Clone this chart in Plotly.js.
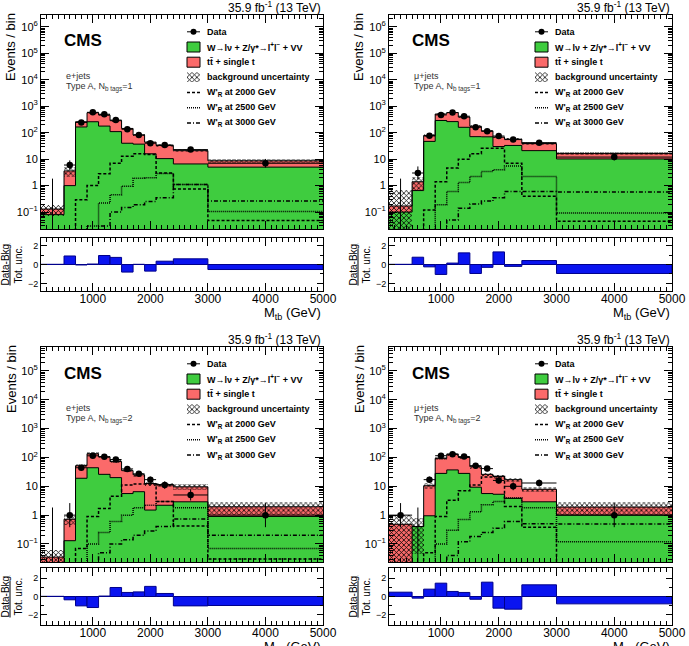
<!DOCTYPE html>
<html>
<head>
<meta charset="utf-8">
<script src="https://cdn.plot.ly/plotly-3.0.1.min.js"></script>
<style>
  html, body { margin: 0; padding: 0; background: #fff; }
  #chart { width: 689px; height: 646px; }
</style>
</head>
<body>
<div id="chart"></div>
<script>
// M_tb binning (GeV)
const binEdges = [100, 500, 700, 900, 1100, 1300, 1500, 1700, 1900, 2100, 2400, 3000, 5000];

// ---- e+jets, Type A, N_b tags = 1 ----
const ewk_e1  = [0.08, 1.0, 165, 260, 178, 110, 40, 37, 16, 10.5, 6.6, 5.0];
const top_e1  = [0.05, 2.6, 95, 310, 287, 175, 105, 45, 28, 22.5, 14.4, 3.7];
const unc_e1  = [0.06, 1.4, 20, 40, 35, 22, 12, 7, 4, 3, 2.5, 1.6];
const data_e1 = [0, 6, 245, 590, 500, 300, 135, 82, 40, 34, 23, 7];
const w2000_e1 = [0.005, 0.01, 0.29, 1.0, 2.8, 7.0, 13, 16, 15, 3.0, 0.74, 0.048];
const w2500_e1 = [0.002, 0.004, 0.01, 0.03, 0.22, 0.45, 0.95, 1.9, 2.0, 2.9, 1.1, 0.105];
const w3000_e1 = [0.001, 0.002, 0.005, 0.01, 0.03, 0.1, 0.15, 0.19, 0.25, 0.35, 1.1, 0.26];
const pull_e1 = [0.02, 0.9, -0.05, 0.05, 0.95, 0.75, -0.8, 0.02, -0.7, 0.35, 0.6, -0.53];

// ---- mu+jets, Type A, N_b tags = 1 ----
const ewk_m1  = [0.1, 0.65, 47, 290, 263, 160, 71, 70, 30, 33, 21, 10.2];
const top_m1  = [0.07, 0.75, 31, 220, 312, 230, 104, 48, 38, 24, 18, 6.3];
const unc_m1  = [0.5, 0.8, 8, 35, 40, 28, 14, 10, 6, 6, 4, 2.5];
const data_m1 = [0, 3, 76, 470, 580, 420, 160, 113, 75, 55, 42, 12];
const w2000_m1 = [0.005, 0.01, 0.12, 1.4, 4.6, 10, 16, 26, 26, 7, 0.4, 0.045];
const w2500_m1 = [0.002, 0.004, 0.01, 0.19, 0.6, 1.3, 2.2, 3.4, 4.0, 5.5, 2.2, 0.093];
const w3000_m1 = [0.001, 0.002, 0.005, 0.01, 0.05, 0.14, 0.2, 0.26, 0.35, 0.6, 0.6, 0.57];
const pull_m1 = [0.02, 0.77, -0.25, -1.05, 0.15, 1.23, -0.95, -0.3, 1.33, -0.2, 0.42, -0.95];

// ---- e+jets, Type A, N_b tags = 2 ----
const ewk_e2  = [0.003, 0.13, 19, 44, 26, 20, 5.6, 6.5, 1.5, 2.2, 2.9, 0.9];
const top_e2  = [0.032, 0.59, 33, 91, 79, 52, 29.4, 18.5, 11, 9.3, 6.7, 1.05];
const unc_e2  = [0.025, 0.25, 6, 14, 11, 8, 4.5, 3.5, 2, 2, 2, 0.9];
const data_e2 = [0, 1, 44, 114, 105, 85, 40, 27, 17, 11, 5, 1];
const w2000_e2 = [0.005, 0.01, 0.07, 0.9, 1.7, 4.5, 11, 12, 12, 3.0, 0.42, 0.03];
const w2500_e2 = [0.002, 0.004, 0.01, 0.1, 0.25, 0.6, 1.0, 1.8, 2.2, 3.0, 1.8, 0.07];
const w3000_e2 = [0.001, 0.002, 0.005, 0.01, 0.05, 0.1, 0.14, 0.2, 0.28, 0.4, 0.74, 0.2];
const pull_e2 = [0.02, -0.36, -1.02, -1.2, 0.05, 0.98, 0.44, 0.5, 1.1, 0.33, -1.02, -0.98];

// ---- mu+jets, Type A, N_b tags = 2 ----
const ewk_m2  = [0.003, 0.4, 0.95, 28, 37, 28, 9.3, 5.6, 5.3, 3.8, 2.9, 1.0];
const top_m2  = [0.48, 0.005, 9.55, 65, 93, 72, 38.7, 20.4, 16.7, 13.2, 5.0, 0.9];
const unc_m2  = [0.5, 0.36, 2.5, 13, 15, 12, 7, 4, 3.5, 3, 1.8, 0.9];
const data_m2 = [1, 0, 17, 115, 130, 107, 52, 41, 16, 10, 13, 1];
const w2000_m2 = [0.005, 0.01, 0.05, 0.9, 3.3, 7, 11, 21, 22, 2.0, 0.38, 0.015];
const w2500_m2 = [0.002, 0.004, 0.01, 0.1, 0.3, 0.7, 1.3, 2.3, 3.0, 4, 1.8, 0.12];
const w3000_m2 = [0.001, 0.002, 0.005, 0.01, 0.04, 0.12, 0.18, 0.25, 0.35, 0.6, 0.5, 0.49];
const pull_m2 = [0.47, -0.18, 0.8, 1.45, 0.55, 0.44, -0.3, 1.56, -1.27, -1.38, 1.27, -0.8];

// legend labels
const legendLabels = ['Data', 'W\u2192l\u03bd + Z/\u03b3*\u2192l<sup>+</sup>l<sup>\u2212</sup> + VV', 'tt\u0304 + single t',
  'background uncertainty', 'W\'<sub>R</sub> at 2000 GeV', 'W\'<sub>R</sub> at 2500 GeV', 'W\'<sub>R</sub> at 3000 GeV'];

// ---- common styling ----
const FONT = 'Liberation Sans, Arial, Helvetica, sans-serif';
const W = 689, H = 646;
const px = v => v / W;
const py = v => 1 - v / H;
const GREEN = '#3fcc3f';
const RED = '#fb6a6a';
const BLUE = '#0a14f0';
const FLOOR = 1e-4;
const DASH = ['3px,2px', '1px,1px', '4px,2px,1px,2px'];
const HATCH = { shape: 'x', fgcolor: '#000', bgcolor: 'rgba(0,0,0,0)', size: 3.5, solidity: 0.4 };

const centers = binEdges.slice(0, -1).map((e, i) => (e + binEdges[i + 1]) / 2);
const widths = binEdges.slice(0, -1).map((e, i) => binEdges[i + 1] - e);
const stepX = binEdges.slice();
const stepY = v => v.concat([v[v.length - 1]]);

const panels = [
  { ewk: ewk_e1, top: top_e1, unc: unc_e1, data: data_e1, sig: [w2000_e1, w2500_e1, w3000_e1], pull: pull_e1,
    chan: 'e+jets', nb: 1, xl: 41, xr: 323, mainY: [15, 229], ratY: [238, 291], rr: 2.8, yr: [-1.64, 6.45], maxDec: 6 },
  { ewk: ewk_m1, top: top_m1, unc: unc_m1, data: data_m1, sig: [w2000_m1, w2500_m1, w3000_m1], pull: pull_m1,
    chan: '\u03bc+jets', nb: 1, xl: 389, xr: 672, mainY: [15, 229], ratY: [238, 291], rr: 2.8, yr: [-1.64, 6.45], maxDec: 6 },
  { ewk: ewk_e2, top: top_e2, unc: unc_e2, data: data_e2, sig: [w2000_e2, w2500_e2, w3000_e2], pull: pull_e2,
    chan: 'e+jets', nb: 2, xl: 41, xr: 323, mainY: [347, 562], ratY: [568, 625], rr: 3.1, yr: [-1.625, 5.83], maxDec: 5 },
  { ewk: ewk_m2, top: top_m2, unc: unc_m2, data: data_m2, sig: [w2000_m2, w2500_m2, w3000_m2], pull: pull_m2,
    chan: '\u03bc+jets', nb: 2, xl: 389, xr: 672, mainY: [347, 562], ratY: [568, 625], rr: 3.1, yr: [-1.625, 5.83], maxDec: 5 }
];

const traces = [];
const layout = {
  width: W, height: H,
  margin: { l: 0, r: 0, t: 0, b: 0 },
  paper_bgcolor: '#fff', plot_bgcolor: 'rgba(0,0,0,0)',
  barmode: 'overlay', bargap: 0,
  font: { family: FONT, color: '#000' },
  annotations: [], shapes: [],
  showlegend: false
};

const axId = n => (n === 1 ? '' : String(n));

panels.forEach((p, k) => {
  const nMain = 2 * k + 1, nRat = 2 * k + 2, nIcon = 9 + k;
  const xm = 'x' + axId(nMain), ym = 'y' + axId(nMain);
  const xrr = 'x' + axId(nRat), yrr = 'y' + axId(nRat);
  const total = p.ewk.map((v, i) => v + p.top[i]);

  // stacked backgrounds
  traces.push({ type: 'bar', xaxis: xm, yaxis: ym, x: centers, width: widths, base: p.ewk.map(() => FLOOR), y: p.ewk,
    marker: { color: GREEN, line: { width: 0 } }, hoverinfo: 'skip' });
  traces.push({ type: 'bar', xaxis: xm, yaxis: ym, x: centers, width: widths, base: p.ewk, y: p.top,
    marker: { color: RED, line: { width: 0 } }, hoverinfo: 'skip' });
  // background uncertainty band
  const lo = total.map((t, i) => Math.max(t - p.unc[i], FLOOR));
  const hi = total.map((t, i) => t + p.unc[i]);
  traces.push({ type: 'bar', xaxis: xm, yaxis: ym, x: centers, width: widths, base: lo, y: hi.map((h, i) => h - lo[i]),
    marker: { color: 'rgba(0,0,0,0)', line: { width: 0 }, pattern: HATCH }, hoverinfo: 'skip' });
  // stack outlines
  [p.ewk, total].forEach(v => traces.push({ type: 'scatter', mode: 'lines', xaxis: xm, yaxis: ym, x: stepX, y: stepY(v),
    line: { shape: 'hv', color: '#000', width: 1 }, hoverinfo: 'skip' }));

  // signal hypotheses
  p.sig.forEach((s, j) => traces.push({ type: 'scatter', mode: 'lines', xaxis: xm, yaxis: ym, x: stepX, y: stepY(s),
    line: { shape: 'hv', color: '#000', width: 1.5, dash: DASH[j] }, hoverinfo: 'skip' }));

  // data with Poisson-style errors
  const dx = [], dy = [], eup = [], edn = [], ex = [];
  p.data.forEach((n, i) => {
    if (n > 0) {
      dx.push(centers[i]); dy.push(n); ex.push(widths[i] / 2);
      eup.push(Math.sqrt(n + 0.25) + 0.5); edn.push(Math.sqrt(n + 0.25) - 0.5);
    } else {
      // empty bin: only the upper error bar is drawn
      traces.push({ type: 'scatter', mode: 'lines', xaxis: xm, yaxis: ym, x: [centers[i], centers[i]], y: [FLOOR, 1.84],
        line: { color: '#000', width: 1 }, hoverinfo: 'skip' });
    }
  });
  traces.push({ type: 'scatter', mode: 'markers', xaxis: xm, yaxis: ym, x: dx, y: dy,
    marker: { color: '#000', size: 6.5 },
    error_x: { type: 'data', array: ex, color: '#000', thickness: 1, width: 0 },
    error_y: { type: 'data', symmetric: false, array: eup, arrayminus: edn, color: '#000', thickness: 1, width: 0 },
    hoverinfo: 'skip' });

  // pull panel
  traces.push({ type: 'bar', xaxis: xrr, yaxis: yrr, x: centers, width: widths, y: p.pull,
    marker: { color: BLUE, line: { color: '#00008b', width: 1 } }, hoverinfo: 'skip' });

  // axes
  const xdom = [px(p.xl), px(p.xr)];
  const tickvals = [], ticktext = [], minorvals = [];
  for (let d = -1; d <= p.maxDec; d++) {
    tickvals.push(Math.pow(10, d));
    ticktext.push(d === 0 ? '1' : d === 1 ? '10' : '10<sup>' + (d < 0 ? '\u2212' + (-d) : d) + '</sup>');
  }
  for (let d = -2; d <= p.maxDec; d++) for (let m = 2; m <= 9; m++) minorvals.push(m * Math.pow(10, d));

  const xCommon = { range: [100, 5000], ticks: 'inside', ticklen: 8, tickwidth: 1, tickcolor: '#000',
    tickmode: 'linear', tick0: 0, dtick: 1000,
    minor: { ticks: 'inside', ticklen: 4, tickwidth: 1, tickcolor: '#000', dtick: 100, tick0: 0 },
    showline: true, linecolor: '#000', linewidth: 1, mirror: 'allticks', showgrid: false, zeroline: false, fixedrange: true };

  layout['xaxis' + axId(nMain)] = Object.assign({}, xCommon, { domain: xdom, anchor: ym, showticklabels: false });
  layout['yaxis' + axId(nMain)] = {
    domain: [py(p.mainY[1]), py(p.mainY[0])], anchor: xm, type: 'log', range: p.yr,
    tickmode: 'array', tickvals: tickvals, ticktext: ticktext, ticks: 'inside', ticklen: 8, tickwidth: 1, tickcolor: '#000',
    minor: { tickmode: 'array', tickvals: minorvals, ticks: 'inside', ticklen: 4, tickwidth: 1, tickcolor: '#000' },
    tickfont: { size: 11, family: FONT }, showline: true, linecolor: '#000', linewidth: 1, mirror: 'allticks',
    showgrid: false, zeroline: false, fixedrange: true };
  layout['xaxis' + axId(nRat)] = Object.assign({}, xCommon, { domain: xdom, anchor: yrr, showticklabels: true,
    ticklabelstandoff: -3, tickfont: { size: 12, family: FONT } });
  layout['yaxis' + axId(nRat)] = {
    domain: [py(p.ratY[1]), py(p.ratY[0])], anchor: xrr, range: [-p.rr, p.rr],
    tickmode: 'array', tickvals: [-2, 0, 2], ticktext: ['\u22122', '0', '2'], ticks: 'inside', ticklen: 6, tickwidth: 1, tickcolor: '#000',
    minor: { tickmode: 'array', tickvals: [-1, 1], ticks: 'inside', ticklen: 3, tickwidth: 1, tickcolor: '#000' },
    tickfont: { size: 9, family: FONT }, showline: true, linecolor: '#000', linewidth: 1, mirror: 'allticks',
    showgrid: false, zeroline: false, fixedrange: true };

  // legend block
  const A = layout.annotations, S = layout.shapes;
  const ix0 = p.xl + 146, ix1 = p.xl + 159, tx = p.xl + 164;
  const rowY = i => p.mainY[0] + 16.8 + 15.2 * i;
  legendLabels.forEach((lab, i) => {
    A.push({ xref: 'paper', yref: 'paper', x: px(tx), y: py(rowY(i)), xanchor: 'left', yanchor: 'middle', showarrow: false,
      text: '<b>' + lab + '</b>', font: { size: 9, family: FONT } });
  });
  // Data icon
  S.push({ type: 'line', xref: 'paper', yref: 'paper', x0: px(ix0), x1: px(ix1), y0: py(rowY(0)), y1: py(rowY(0)),
    line: { color: '#000', width: 1 } });
  S.push({ type: 'circle', xref: 'paper', yref: 'paper', x0: px((ix0 + ix1) / 2 - 3), x1: px((ix0 + ix1) / 2 + 3),
    y0: py(rowY(0) - 3), y1: py(rowY(0) + 3), fillcolor: '#000', line: { color: '#000', width: 0 } });
  // filled boxes
  [[1, GREEN], [2, RED]].forEach(b => S.push({ type: 'rect', xref: 'paper', yref: 'paper', x0: px(ix0), x1: px(ix1),
    y0: py(rowY(b[0]) - 5), y1: py(rowY(b[0]) + 5), fillcolor: b[1], line: { color: '#000', width: 1 } }));
  // hatched box drawn on a small hidden axis pair so it uses the same fill pattern
  const xi = 'x' + nIcon, yi = 'y' + nIcon;
  layout['xaxis' + nIcon] = { domain: [px(ix0), px(ix1)], range: [0, 1], visible: false, anchor: yi, fixedrange: true };
  layout['yaxis' + nIcon] = { domain: [py(rowY(3) + 5), py(rowY(3) - 5)], range: [0, 1], visible: false, anchor: xi, fixedrange: true };
  traces.push({ type: 'bar', xaxis: xi, yaxis: yi, x: [0.5], y: [1], base: [0], width: [1],
    marker: { color: 'rgba(0,0,0,0)', line: { width: 0 }, pattern: HATCH }, hoverinfo: 'skip' });
  // signal line icons
  DASH.forEach((d, j) => S.push({ type: 'line', xref: 'paper', yref: 'paper', x0: px(ix0), x1: px(ix1),
    y0: py(rowY(4 + j)), y1: py(rowY(4 + j)), line: { color: '#000', width: 1.5, dash: d } }));

  // texts
  const top = p.mainY[0];
  A.push({ xref: 'paper', yref: 'paper', x: px(p.xr), y: py(top - 8), xanchor: 'right', yanchor: 'middle', showarrow: false,
    text: '35.9 fb<sup>-1</sup> (13 TeV)', font: { size: 12, family: FONT } });
  A.push({ xref: 'paper', yref: 'paper', x: px(p.xl + 21), y: py(top + 26), xanchor: 'left', yanchor: 'middle', showarrow: false,
    text: '<b>CMS</b>', font: { size: 17, family: FONT } });
  A.push({ xref: 'paper', yref: 'paper', x: px(p.xl + 23), y: py(top + 61), xanchor: 'left', yanchor: 'middle', showarrow: false,
    text: p.chan, font: { size: 9, family: FONT, color: '#333' } });
  A.push({ xref: 'paper', yref: 'paper', x: px(p.xl + 23), y: py(top + 72), xanchor: 'left', yanchor: 'middle', showarrow: false,
    text: 'Type A, N<sub>b tags</sub>=' + p.nb, font: { size: 9, family: FONT, color: '#333' } });
  A.push({ xref: 'paper', yref: 'paper', x: px(p.xl - 30), y: py(top + 32), xanchor: 'center', yanchor: 'middle', showarrow: false,
    textangle: -90, text: 'Events / bin', font: { size: 13, family: FONT } });
  A.push({ xref: 'paper', yref: 'paper', x: px(p.xl - 30), y: py((p.ratY[0] + p.ratY[1]) / 2), xanchor: 'center', yanchor: 'middle',
    showarrow: false, textangle: -90, text: '<u>Data-Bkg</u><br>Tot. unc.', font: { size: 10, family: FONT } });
  A.push({ xref: 'paper', yref: 'paper', x: px(p.xr), y: py(p.ratY[1] + 22), xanchor: 'right', yanchor: 'middle', showarrow: false,
    text: 'M<sub>tb</sub> (GeV)', font: { size: 13, family: FONT } });
});

Plotly.newPlot('chart', traces, layout, { staticPlot: true });
</script>
</body>
</html>
